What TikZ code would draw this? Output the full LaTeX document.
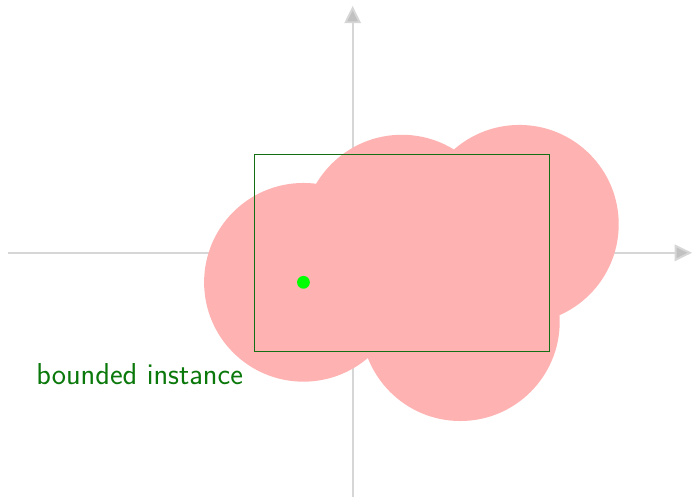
\documentclass[tikz,border=0pt]{standalone}
\usetikzlibrary{arrows.meta}
\definecolor{axisgray}{RGB}{214,214,214}
\definecolor{rectgreen}{RGB}{20,110,20}
\definecolor{textgreen}{RGB}{10,120,10}
\tikzset{
  axisline/.style={draw=axisgray, line width=1.1pt, -{Triangle[length=10pt,width=9.5pt,fill=axisgray!90!black]}},
  blob/.style={fill=red!30, draw=none},
  boundrect/.style={draw=rectgreen, line width=0.75pt},
}
\begin{document}
\begin{tikzpicture}
\useasboundingbox (-7.17,-4.95) rectangle (6.90,5.14);
\draw[axisline] (-7,0) -- (6.9,0);
\draw[axisline] (0,-5) -- (0,5.02);
\fill[blob] (-1,-0.6) circle (2.02);
\fill[blob] (1,0.38) circle (2.02);
\fill[blob] (3.39,0.58) circle (2.02);
\fill[blob] (2.19,-1.4) circle (2.02);
\draw[boundrect] (-2,-2) rectangle (4,2);
\fill[green] (-1,-0.6) circle (0.13);
\node[text=textgreen, font=\sffamily\fontsize{17.5}{21}\selectfont] (label) at (-4.33,-2.46) {bounded instance};
\end{tikzpicture}
\end{document}
